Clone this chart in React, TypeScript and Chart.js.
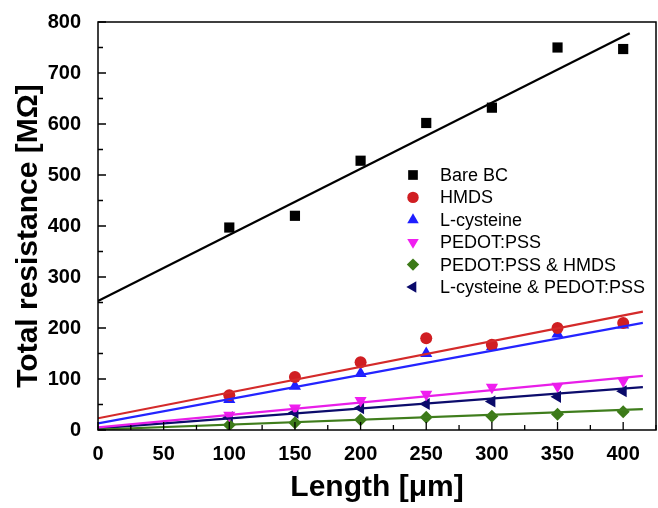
import React, { useEffect, useRef } from 'react';
import { Chart, registerables } from 'chart.js';
import { drawPoint } from 'chart.js/helpers';

Chart.register(...registerables);

// ---- data ----
const lengths = [100, 150, 200, 250, 300, 350, 400];
const bareBC = [397, 420, 528, 602, 632, 750, 747];
const hmds = [68, 104, 133, 180, 167, 200, 210];
const lCysteine = [60, 86, 111, 150, 163, 188, 206];
const pedotPss = [29, 43, 58, 70, 84, 86, 96];
const pedotPssHmds = [10, 14, 20, 25, 27, 31, 36];
const lCysPedotPss = [25, 34, 43, 51, 56, 65, 76];

// linear-fit end points
const fitXBare = [0, 405];
const fitX = [0, 415];
const fitBareBC = [253, 778];
const fitHmds = [23, 232];
const fitLCysteine = [13, 210];
const fitPedotPss = [5, 106];
const fitPedotPssHmds = [1, 41];
const fitLCysPedotPss = [3, 84];

const xTicks = [0, 50, 100, 150, 200, 250, 300, 350, 400];
const yTicks = [0, 100, 200, 300, 400, 500, 600, 700, 800];

const xTitle = 'Length [μm]';
const yTitle = 'Total resistance [MΩ]';

const FONT = "'Liberation Sans', Arial, sans-serif";

type Series = {
  label: string;
  values: number[];
  fitXs: number[];
  fit: number[];
  color: string;
  fill: string;
  style: string;
  rotation: number;
  radius: number;
};

const series: Series[] = [
  { label: 'Bare BC', values: bareBC, fitXs: fitXBare, fit: fitBareBC, color: '#000000', fill: '#000000', style: 'rect', rotation: 0, radius: 7.2 },
  { label: 'HMDS', values: hmds, fitXs: fitX, fit: fitHmds, color: '#d42a2a', fill: '#d01e22', style: 'circle', rotation: 0, radius: 6 },
  { label: 'L-cysteine', values: lCysteine, fitXs: fitX, fit: fitLCysteine, color: '#2424ff', fill: '#1e1eff', style: 'triangle', rotation: 0, radius: 7 },
  { label: 'PEDOT:PSS', values: pedotPss, fitXs: fitX, fit: fitPedotPss, color: '#e81ee8', fill: '#f01ef0', style: 'triangle', rotation: 180, radius: 7 },
  { label: 'PEDOT:PSS & HMDS', values: pedotPssHmds, fitXs: fitX, fit: fitPedotPssHmds, color: '#3f7d1c', fill: '#3c7a18', style: 'rectRot', rotation: 0, radius: 6.5 },
  { label: 'L-cysteine & PEDOT:PSS', values: lCysPedotPss, fitXs: fitX, fit: fitLCysPedotPss, color: '#0c0c6c', fill: '#0a0a6a', style: 'triangle', rotation: -90, radius: 7 },
];

const framePlugin = {
  id: 'frameTicksLegend',
  afterDraw(chart: any) {
    const { ctx, chartArea } = chart;
    const xs = chart.scales.x;
    const ys = chart.scales.y;
    ctx.save();
    ctx.strokeStyle = '#000';
    ctx.lineWidth = 1.5;
    ctx.strokeRect(chartArea.left, chartArea.top, chartArea.right - chartArea.left, chartArea.bottom - chartArea.top);
    // inward ticks
    ctx.lineWidth = 1.3;
    ctx.beginPath();
    for (let v = 0; v <= 425; v += 25) {
      const px = xs.getPixelForValue(v);
      const len = v % 50 === 0 ? 8 : 5;
      ctx.moveTo(px, chartArea.bottom);
      ctx.lineTo(px, chartArea.bottom - len);
    }
    for (let v = 0; v <= 800; v += 50) {
      const py = ys.getPixelForValue(v);
      const len = v % 100 === 0 ? 8 : 5;
      ctx.moveTo(chartArea.left, py);
      ctx.lineTo(chartArea.left + len, py);
    }
    ctx.stroke();
    // y-axis title
    ctx.save();
    ctx.translate(29, 236);
    ctx.rotate(-Math.PI / 2);
    ctx.font = `bold 30px ${FONT}`;
    ctx.fillStyle = '#000';
    ctx.textAlign = 'center';
    ctx.textBaseline = 'middle';
    ctx.fillText(yTitle, 0, 0);
    ctx.restore();
    // legend
    const lx = 413;
    const tx = 440;
    let ly = 175;
    ctx.font = `18px ${FONT}`;
    ctx.textBaseline = 'middle';
    ctx.textAlign = 'left';
    series.forEach((s) => {
      ctx.fillStyle = s.fill;
      ctx.strokeStyle = s.fill;
      drawPoint(ctx, { pointStyle: s.style, rotation: s.rotation, radius: s.radius * 0.95, borderWidth: 0 } as any, lx, ly);
      ctx.fillStyle = '#000';
      ctx.fillText(s.label, tx, ly + 1);
      ly += 22.4;
    });
    ctx.restore();
  },
};

export default function App() {
  const ref = useRef<HTMLCanvasElement>(null);
  useEffect(() => {
    if (!ref.current) return;
    const datasets: any[] = [];
    series.forEach((s) => {
      datasets.push({
        label: s.label + ' fit',
        data: s.fitXs.map((x, i) => ({ x, y: s.fit[i] })),
        showLine: true,
        borderColor: s.color,
        borderWidth: 2.2,
        pointRadius: 0,
        fill: false,
      });
    });
    series.forEach((s) => {
      datasets.push({
        label: s.label,
        data: lengths.map((x, i) => ({ x, y: s.values[i] })),
        showLine: false,
        pointStyle: s.style,
        pointRotation: s.rotation,
        pointRadius: s.radius,
        pointBackgroundColor: s.fill,
        pointBorderColor: s.fill,
        pointBorderWidth: 0,
      });
    });
    const chart = new Chart(ref.current, {
      type: 'scatter',
      data: { datasets },
      options: {
        animation: false,
        responsive: false,
        layout: { autoPadding: false, padding: { top: 22, right: 2, left: 0, bottom: 0 } },
        plugins: { legend: { display: false }, tooltip: { enabled: false } },
        scales: {
          x: {
            type: 'linear',
            min: 0,
            max: 425,
            afterFit: (s: any) => { s.height = 78; s.paddingLeft = 0; s.paddingRight = 0; },
            afterBuildTicks: (s: any) => { s.ticks = xTicks.map((v) => ({ value: v })); },
            ticks: { font: { family: FONT, size: 20, weight: 'bold' }, color: '#000', padding: 4, maxRotation: 0, autoSkip: false },
            grid: { display: false },
            border: { display: false },
            title: { display: true, text: xTitle, color: '#000', font: { family: FONT, size: 30, weight: 'bold' }, padding: { top: 0, bottom: 2 } },
          },
          y: {
            type: 'linear',
            min: 0,
            max: 800,
            afterFit: (s: any) => { s.width = 98; s.paddingTop = 0; s.paddingBottom = 0; },
            afterBuildTicks: (s: any) => { s.ticks = yTicks.map((v) => ({ value: v })); },
            ticks: { font: { family: FONT, size: 20, weight: 'bold' }, color: '#000', padding: 9 },
            grid: { display: false },
            border: { display: false },
            title: { display: false },
          },
        },
      } as any,
      plugins: [framePlugin],
    });
    return () => chart.destroy();
  }, []);
  return (
    <div style={{ position: 'absolute', left: 0, top: 0, width: 658, height: 508, background: '#fff' }}>
      <canvas ref={ref} width={658} height={508} style={{ display: 'block' }} />
    </div>
  );
}
